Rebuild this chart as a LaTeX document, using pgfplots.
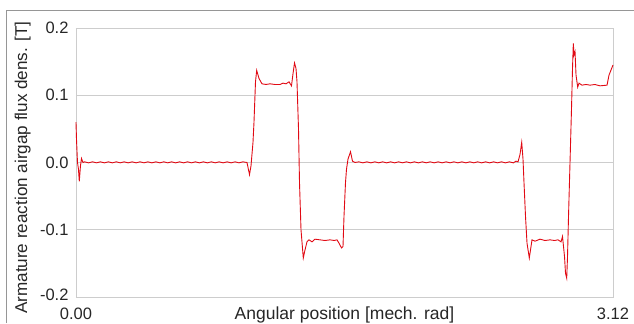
\documentclass[border=0pt]{standalone}
\usepackage{pgfplots}
\pgfplotsset{compat=1.18}
\usepackage{fontspec}
\setmainfont{Liberation Sans}
\definecolor{gridc}{RGB}{205,205,205}
\definecolor{framec}{RGB}{150,150,150}
\definecolor{curve}{RGB}{225,10,20}
\begin{document}
\begin{tikzpicture}
\begin{axis}[
  scale only axis, width=537pt, height=269pt,
  xmin=0, xmax=3.12, ymin=-0.2, ymax=0.2,
  clip=false,
  axis line style={gridc},
  major tick length=0pt,
  xtick={0,3.12}, xticklabels={0.00,3.12},
  ytick={-0.2,-0.1,0,0.1,0.2}, yticklabels={\raisebox{4pt}{-0.2},-0.1,0.0,0.1,\raisebox{-6pt}{0.2}},
  ymajorgrids, grid style={gridc, line width=0.8pt},
  font=\fontsize{17}{19}\selectfont,
  tick label style={font=\fontsize{16.5}{19}\selectfont, text=black!85},
  xticklabel style={anchor=base, yshift=-22pt},
  yticklabel style={anchor=east, xshift=-4pt},
  xlabel={Angular position [mech. rad]},
  xlabel style={at={(axis description cs:0.5,0)}, anchor=base, yshift=-22pt, text=black!85, font=\fontsize{17.5}{19}\selectfont},
  ylabel={Armature reaction airgap flux dens. [T]},
  ylabel style={at={(axis description cs:-0.0912,0.481)}, anchor=base, text=black!85, font=\fontsize{17.1}{19}\selectfont},
]
\coordinate (bl) at (rel axis cs:-0.1415,-0.0967);
\coordinate (tr) at (rel axis cs:1.0391,1.1041);
\coordinate (fr) at (rel axis cs:-0.1304,1.0669);
\coordinate (fb) at (rel axis cs:-0.1304,-0.0967);
\addplot[curve, line width=0.9pt] coordinates {
(0,0.06) (0.0029,0.035) (0.0087,0.0) (0.0145,-0.01) (0.0192,-0.028) (0.0261,-0.005) (0.0320,0.006) (0.0407,0.0)
(0.050,0.001) (0.073,-0.0005) (0.096,0.001) (0.119,-0.0005) (0.142,0.001) (0.165,-0.0005) (0.188,0.001) (0.211,-0.0005)
(0.234,0.001) (0.257,-0.0005) (0.280,0.001) (0.303,-0.0005) (0.326,0.001) (0.349,-0.0005) (0.372,0.001) (0.395,-0.0005)
(0.418,0.001) (0.441,-0.0005) (0.464,0.001) (0.487,-0.0005) (0.510,0.001) (0.533,-0.0005) (0.556,0.001) (0.579,-0.0005)
(0.602,0.001) (0.625,-0.0005) (0.648,0.001) (0.671,-0.0005) (0.694,0.001) (0.717,-0.0005) (0.740,0.001) (0.763,-0.0005)
(0.786,0.001) (0.809,-0.0005) (0.832,0.001) (0.855,-0.0005) (0.878,0.001) (0.901,-0.0005) (0.924,0.001) (0.947,-0.0005)
(0.970,0.001) (0.9935,0.0)
(1.0081,-0.018) (1.0168,-0.005) (1.0284,0.03) (1.0342,0.06) (1.0429,0.12) (1.0499,0.137) (1.0632,0.125) (1.0807,0.117)
(1.1040,0.116) (1.1272,0.117) (1.1560,0.116) (1.1853,0.116) (1.2027,0.118) (1.2201,0.117) (1.2376,0.12) (1.2521,0.114)
(1.2608,0.132) (1.2695,0.148) (1.2782,0.14) (1.2840,0.12) (1.2928,0.05) (1.2986,-0.03) (1.3073,-0.1) (1.3206,-0.142)
(1.3305,-0.13) (1.3421,-0.118) (1.3538,-0.115) (1.3712,-0.118) (1.3886,-0.114) (1.4177,-0.115) (1.4470,-0.116)
(1.4758,-0.115) (1.5000,-0.116) (1.5165,-0.115) (1.5281,-0.12) (1.5426,-0.127) (1.5513,-0.125) (1.5571,-0.08)
(1.5658,-0.03) (1.5716,-0.01) (1.5803,0.005) (1.5949,0.016) (1.6065,0.002) (1.6210,0.0)
(1.644,0.001) (1.667,-0.0005) (1.690,0.001) (1.713,-0.0005) (1.736,0.001) (1.759,-0.0005) (1.782,0.001) (1.805,-0.0005)
(1.828,0.001) (1.851,-0.0005) (1.874,0.001) (1.897,-0.0005) (1.920,0.001) (1.943,-0.0005) (1.966,0.001) (1.989,-0.0005)
(2.012,0.001) (2.035,-0.0005) (2.058,0.001) (2.081,-0.0005) (2.104,0.001) (2.127,-0.0005) (2.150,0.001) (2.173,-0.0005)
(2.196,0.001) (2.219,-0.0005) (2.242,0.001) (2.265,-0.0005) (2.288,0.001) (2.311,-0.0005) (2.334,0.001) (2.357,-0.0005)
(2.380,0.001) (2.403,-0.0005) (2.426,0.001) (2.449,-0.0005) (2.472,0.001) (2.495,-0.0005) (2.518,0.001) (2.541,-0.0005)
(2.5564,0.002) (2.5681,0.001) (2.5797,0.012) (2.5896,0.030) (2.5971,0.005) (2.6029,-0.03) (2.6116,-0.08) (2.6204,-0.12)
(2.6337,-0.142) (2.6407,-0.13) (2.6494,-0.115) (2.6668,-0.117) (2.6959,-0.114) (2.7250,-0.116) (2.7540,-0.115)
(2.7800,-0.116) (2.8005,-0.115) (2.8179,-0.118) (2.8266,-0.11) (2.8383,-0.14) (2.8441,-0.165) (2.8510,-0.172)
(2.8557,-0.14) (2.8615,-0.08) (2.8702,0.0) (2.8789,0.08) (2.8847,0.14) (2.8894,0.177) (2.8935,0.16) (2.8993,0.165)
(2.9051,0.13) (2.9149,0.112) (2.9225,0.118) (2.9399,0.115) (2.9630,0.116) (2.9864,0.115) (3.0150,0.116) (3.0445,0.114)
(3.0852,0.115) (3.0968,0.13) (3.12,0.145)
};
\end{axis}
\pgfresetboundingbox
\path[use as bounding box] (bl) rectangle (tr);
\draw[framec, line width=0.8pt] (fb) -- (fr) -- (fr -| tr);
\end{tikzpicture}
\end{document}
